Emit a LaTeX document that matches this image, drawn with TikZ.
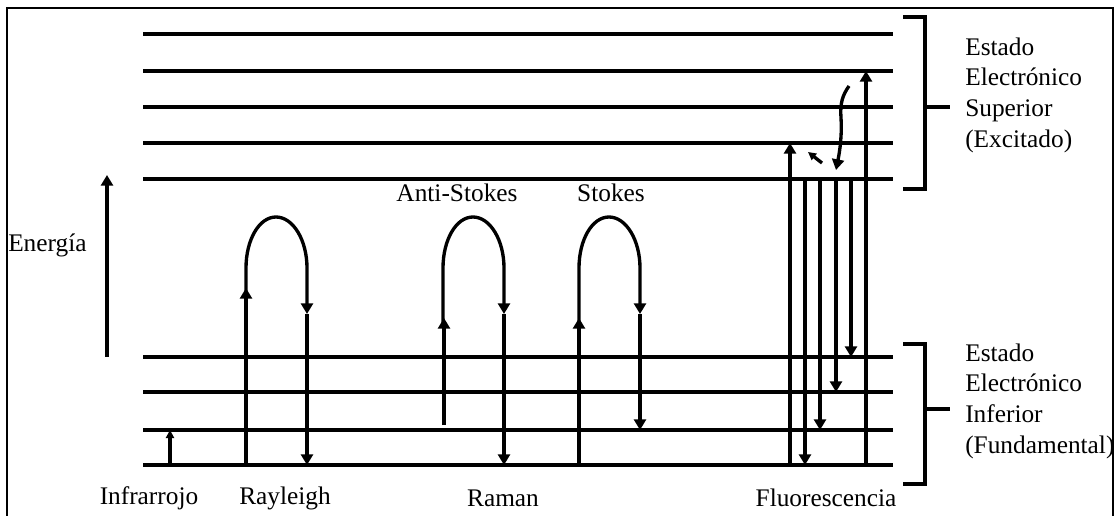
\documentclass[tikz,border=0pt]{standalone}
\usepackage{fontspec}
\setmainfont{Liberation Serif}
\usetikzlibrary{arrows.meta}
\begin{document}
\begin{tikzpicture}[x=0.75pt,y=-0.75pt,
  level/.style={line width=2.4pt},
  brk/.style={line width=2.4pt},
  arr/.style={line width=2.5pt,-{Triangle[length=8pt,width=9pt]}},
  sarr/.style={line width=2.5pt,-{Triangle[length=6pt,width=6pt]}},
  lbl/.style={font=\fontsize{19}{23}\selectfont,inner sep=0pt,align=left}]
\useasboundingbox (0,0) rectangle (1117,516);
% frame (open at bottom)
\draw[line width=1.2pt] (7,516) -- (7,8) -- (1113,8) -- (1113,516);
% levels
\foreach \y in {34,71,107,143,179,357,392,430,465}
  \draw[level] (143,\y) -- (893,\y);
% brackets
\draw[brk] (903,17) -- (925,17) -- (925,189) -- (903,189);
\draw[brk] (925,107) -- (950,107);
\draw[brk] (903,344) -- (925,344) -- (925,484) -- (903,484);
\draw[brk] (925,409) -- (950,409);
\node[lbl,anchor=west] (sup) at (965,95) {Estado\\Electrónico\\Superior\\(Excitado)};
\node[lbl,anchor=west] (inf) at (965,401) {Estado\\Electrónico\\Inferior\\(Fundamental)};
% energy
\coordinate (e0) at (107,357); \coordinate (e1) at (107,175);
\draw[arr] (e0) -- (e1);
\node[lbl,anchor=west] (en) at (8,245) {Energía};
% infrared
\coordinate (ir0) at (170,465); \coordinate (ir1) at (170,430);
\draw[sarr] (ir0) -- (ir1);
% Rayleigh
\coordinate (r0) at (246,465); \coordinate (r1) at (246,288);
\coordinate (r2) at (307,314); \coordinate (r3) at (307,465);
\draw[arr] (r0) -- (r1);
\draw[arr] (246,298) -- (246,268) .. controls (246,240) and (259,217) .. (276,217)
  .. controls (293,217) and (307,240) .. (307,268) -- (r2);
\draw[arr] (r2) -- (r3);
% Anti-Stokes
\coordinate (a0) at (444,425); \coordinate (a1) at (444,318);
\coordinate (a2) at (504,314); \coordinate (a3) at (504,465);
\draw[arr] (a0) -- (a1);
\draw[arr] (443,328) -- (443,268) .. controls (443,240) and (456,217) .. (473,217)
  .. controls (490,217) and (504,240) .. (504,268) -- (a2);
\draw[arr] (a2) -- (a3);
% Stokes
\coordinate (s0) at (579,465); \coordinate (s1) at (579,318);
\coordinate (s2) at (640,314); \coordinate (s3) at (640,430);
\draw[arr] (s0) -- (s1);
\draw[arr] (579,328) -- (579,268) .. controls (579,240) and (592,217) .. (609,217)
  .. controls (626,217) and (640,240) .. (640,268) -- (s2);
\draw[arr] (s2) -- (s3);
% Fluorescence
\draw[arr] (790,465) -- (790,143);
\draw[arr] (805,179) -- (805,465);
\draw[arr] (820,179) -- (820,430);
\draw[arr] (836,179) -- (836,392);
\draw[arr] (851,179) -- (851,357);
\draw[arr] (866,465) -- (866,71);
\coordinate (c0) at (849,86); \coordinate (c1) at (836,170);
\draw[arr] (c0) .. controls (842,96) and (840,104) .. (841,118) .. controls (842,135) and (840,150) .. (c1);
\coordinate (d0) at (822,163); \coordinate (d1) at (808,152);
\draw[sarr] (d0) -- (d1);
% labels
\node[lbl] (las) at (457,193) {Anti-Stokes};
\node[lbl] (lst) at (611,193) {Stokes};
\node[lbl] (lir) at (149,498) {Infrarrojo};
\node[lbl] (lra) at (285,498) {Rayleigh};
\node[lbl] (lrm) at (503,498) {Raman};
\node[lbl] (lfl) at (826,498) {Fluorescencia};
\end{tikzpicture}
\end{document}
